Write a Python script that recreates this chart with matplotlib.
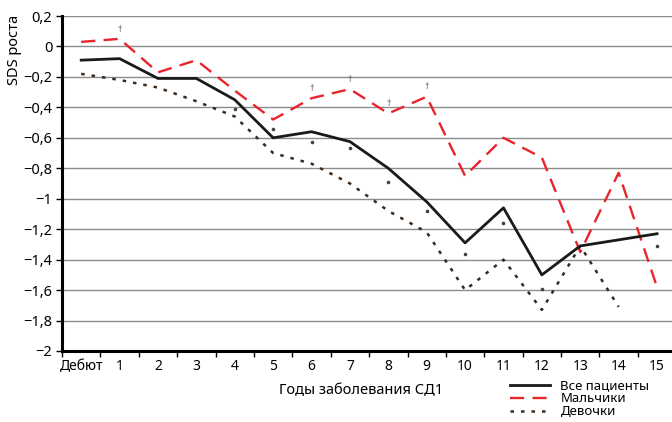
import numpy as np
import matplotlib.pyplot as plt
from matplotlib.ticker import FixedLocator, FuncFormatter

plt.rcParams['font.family'] = ['Noto Sans', 'DejaVu Sans']

categories = ['Дебют', '1', '2', '3', '4', '5', '6', '7', '8', '9',
              '10', '11', '12', '13', '14', '15']
all_patients = [-0.09, -0.08, -0.21, -0.21, -0.35, -0.60, -0.56, -0.625,
                -0.80, -1.02, -1.29, -1.06, -1.50, -1.31, -1.27, -1.23]
boys = [0.03, 0.05, -0.17, -0.09, -0.29, -0.48, -0.34, -0.28,
        -0.44, -0.33, -0.85, -0.60, -0.73, -1.35, -0.83, -1.58]
girls = [-0.18, -0.22, -0.27, -0.36, -0.46, -0.70, -0.77, -0.90,
         -1.08, -1.22, -1.60, -1.40, -1.73, -1.31, -1.71]
# small grey marks under the lines
mark_x = [4, 5, 6, 7, 8, 9, 10, 11, 12, 15]
mark_y = [-0.41, -0.54, -0.63, -0.67, -0.89, -1.08, -1.36, -1.16, -1.59, -1.31]
# significance daggers over boys line
dagger_idx = [1, 6, 7, 8, 9]

x = np.arange(len(categories))


def fmt(v, p):
    v = round(v, 1)
    if abs(v) < 1e-9:
        return '0'
    return ('%g' % v).replace('.', ',').replace('-', '\u2212')


fig = plt.figure(figsize=(6.72, 4.22), dpi=100)
ax = fig.add_axes([62/672, 1 - 351/422, 1 - 62/672, 335/422])

ax.set_ylim(-2, 0.2)
ax.set_xlim(-0.5, 15.39)
yt = np.round(np.arange(-2, 0.21, 0.2), 1)
ax.set_yticks(yt)
ax.yaxis.set_major_formatter(FuncFormatter(fmt))
ax.grid(axis='y', color='#8c8c8c', linewidth=1.0)
ax.set_axisbelow(True)

ax.set_xticks(x)
ax.set_xticklabels(categories)
ax.xaxis.set_minor_locator(FixedLocator(np.arange(-0.5, 15.6, 1)))
ax.tick_params(axis='x', which='major', length=0, pad=6, labelsize=10)
ax.tick_params(axis='x', which='minor', length=4, width=1, direction='out')
ax.tick_params(axis='y', length=4, width=1, labelsize=10.5, pad=3)

for s in ['top', 'right']:
    ax.spines[s].set_visible(False)
ax.spines['left'].set_linewidth(2.2)
ax.spines['bottom'].set_linewidth(2.2)

ax.plot(x, all_patients, color='#1a1a1a', lw=2.0, label='Все пациенты', zorder=4)
ax.plot(x, boys, color='#e8242c', lw=1.7, dashes=(6, 3.5), label='Мальчики', zorder=3)
ax.plot(x[:len(girls)], girls, color='#3b2a1c', lw=1.8, dashes=(1.4, 2.8),
        label='Девочки', zorder=3)
ax.plot(mark_x, mark_y, ls='none', marker='o', ms=1.6, color='#444444', zorder=3)

for i in dagger_idx:
    ax.text(x[i], boys[i] + 0.035, '†', ha='center', va='bottom',
            fontsize=6.5, color='#555555', zorder=5)

fig.text(15/672, 1 - 50/422, 'SDS роста', rotation=90, ha='center', va='center',
         fontsize=10.5)
fig.text(361/672, 1 - 391/422, 'Годы заболевания СД1', ha='center', va='center',
         fontsize=10.5)

leg = fig.legend(loc='upper left', bbox_to_anchor=(505/672, 1 - 374/422),
                 frameon=False, fontsize=9.5, handlelength=3.0, handletextpad=0.8,
                 labelspacing=0.0, borderaxespad=0)

fig.savefig('out.png', dpi=100)
